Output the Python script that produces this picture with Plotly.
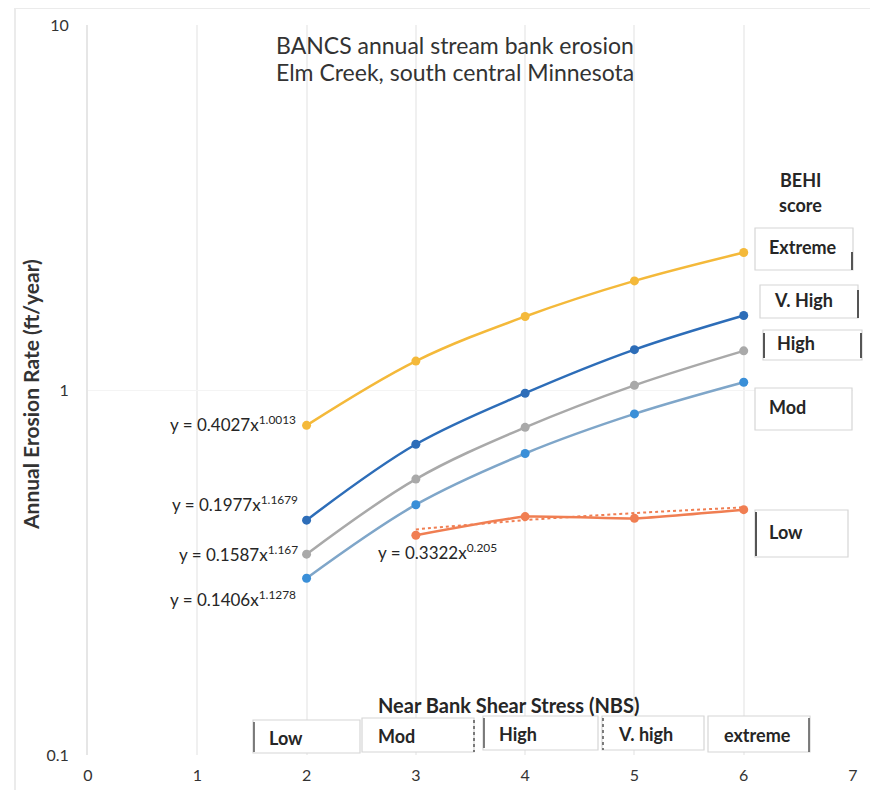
import plotly.graph_objects as go

# ---------------- data ----------------
nbs = [2, 3, 4, 5, 6]
nbs_low = [3, 4, 5, 6]
extreme = [0.80, 1.20, 1.59, 1.99, 2.38]
v_high = [0.44, 0.71, 0.98, 1.29, 1.60]
high = [0.355, 0.57, 0.79, 1.03, 1.28]
mod = [0.305, 0.485, 0.67, 0.86, 1.05]
low = [0.40, 0.45, 0.445, 0.47]
low_trend = [0.415, 0.44, 0.46, 0.477]

x_ticks = [0, 1, 2, 3, 4, 5, 6, 7]
y_ticks = [0.1, 1, 10]
y_tick_text = ["0.1", "1", "10"]

behi_labels = ["Extreme", "V. High", "High", "Mod", "Low"]
nbs_labels = ["Low", "Mod", "High", "V. high", "extreme"]
equations = [
    "y = 0.4027x<sup>1.0013</sup>",
    "y = 0.1977x<sup>1.1679</sup>",
    "y = 0.1587x<sup>1.167</sup>",
    "y = 0.1406x<sup>1.1278</sup>",
    "y = 0.3322x<sup>0.205</sup>",
]

# ---------------- layout helpers (page pixel -> paper) ----------------
OFF = 8  # default body margin of the page
W, H = 878 - OFF, 790 - OFF
L, R, T, B = 88, 853, 25, 755  # plot area in page pixels


def px(x):
    return (x - L) / (R - L)


def py(y):
    return (B - y) / (B - T)


FONT = "Lato"
TXT = "#333333"
DARK = "#262626"

fig = go.Figure()

series = [
    ("Extreme", nbs, extreme, "#F4B93A", 1.0),
    ("V. High", nbs, v_high, "#2D6DB8", 1.0),
    ("High", nbs, high, "#A9A9A9", 1.0),
    ("Mod", nbs, mod, "#7FA6C9", 1.0),
    ("Low", nbs_low, low, "#F07E52", 0.4),
]
marker_cols = ["#F4B93A", "#2D6DB8", "#A9A9A9", "#3A8FD8", "#F07E52"]

fig.add_trace(go.Scatter(x=nbs_low, y=low_trend, mode="lines",
                         line=dict(color="#F07E52", width=2, dash="dot", shape="spline"),
                         showlegend=False, hoverinfo="skip"))

for (name, xs, ys, col, sm), mc in zip(series, marker_cols):
    fig.add_trace(go.Scatter(
        x=xs, y=ys, mode="lines+markers", name=name,
        line=dict(color=col, width=2.5, shape="spline", smoothing=sm),
        marker=dict(color=mc, size=9),
        showlegend=False,
    ))

shapes = []
annotations = []


def label(x, y, text, size, color=DARK, xanchor="center", angle=0):
    annotations.append(dict(xref="paper", yref="paper", x=px(x), y=py(y),
                            xanchor=xanchor, yanchor="middle", text=text,
                            showarrow=False, textangle=angle,
                            font=dict(family=FONT, size=size, color=color)))


# outer faint frame
shapes.append(dict(type="rect", xref="paper", yref="paper",
                   x0=px(15), x1=px(900), y0=py(800), y1=py(8),
                   line=dict(color="#EBEBEB", width=2), layer="below"))

# Title
label(455, 45, "BANCS annual stream bank erosion", 23, TXT)
label(455, 72, "Elm Creek, south central Minnesota", 23, TXT)

# Y axis title
label(30, 395, "<b>Annual Erosion Rate (ft/year)</b>", 21, TXT, angle=-90)

# BEHI header
label(800, 180, "<b>BEHI</b>", 18)
label(800, 205, "<b>score</b>", 18)

# BEHI boxes (x0, x1, y0, y1 page pixels)
behi_boxes = [
    (755, 853, 228, 270),
    (760, 858, 285, 318),
    (763, 862, 330, 360),
    (755, 852, 388, 430),
    (755, 848, 510, 557),
]
for lab, (x0, x1, y0, y1) in zip(behi_labels, behi_boxes):
    shapes.append(dict(type="rect", xref="paper", yref="paper",
                       x0=px(x0), x1=px(x1), y0=py(y1), y1=py(y0),
                       fillcolor="white", line=dict(color="#D6D6D6", width=1.2)))
    label(x0 + 12, (y0 + y1) / 2 - 2, "<b>%s</b>" % lab, 18, xanchor="left")

# dark edges on some BEHI boxes
dark_edges = [(852, 252, 270), (858, 290, 318), (764, 333, 358), (861, 333, 358), (756, 512, 556)]
for x, ya, yb in dark_edges:
    shapes.append(dict(type="line", xref="paper", yref="paper",
                       x0=px(x), x1=px(x), y0=py(ya), y1=py(yb),
                       line=dict(color="#555555", width=2)))

# NBS header and boxes
label(508, 705, "<b>Near Bank Shear Stress (NBS)</b>", 20)
nbs_boxes = [
    (253, 360, 720, 753),
    (362, 474, 718, 752),
    (483, 598, 716, 750),
    (602, 704, 716, 750),
    (708, 810, 716, 752),
]
for lab, (x0, x1, y0, y1) in zip(nbs_labels, nbs_boxes):
    shapes.append(dict(type="rect", xref="paper", yref="paper",
                       x0=px(x0), x1=px(x1), y0=py(y1), y1=py(y0),
                       fillcolor="white", line=dict(color="#D6D6D6", width=1.2)))
    label(x0 + 14, (y0 + y1) / 2 + 1, "<b>%s</b>" % lab, 18, xanchor="left")
nbs_dark = [(254, 722, 752), (474, 720, 752), (484, 718, 748), (603, 718, 750), (809, 718, 752)]
for x, ya, yb in nbs_dark:
    shapes.append(dict(type="line", xref="paper", yref="paper",
                       x0=px(x), x1=px(x), y0=py(ya), y1=py(yb),
                       line=dict(color="#555555", width=1.5,
                                 dash="dot" if x in (474, 603) else "solid")))

# Equations (anchor x page px, center y page px)
eq_pos = [(298, 423, "right"), (300, 503, "right"), (300, 553, "right"),
          (298, 598, "right"), (376, 551, "left")]
for eq, (x, y, anc) in zip(equations, eq_pos):
    label(x, y, eq, 17, xanchor=anc)

fig.update_layout(
    width=W, height=H,
    margin=dict(l=L - OFF, r=W - (R - OFF), t=T - OFF, b=H - (B - OFF), pad=0),
    paper_bgcolor="white", plot_bgcolor="white",
    shapes=shapes, annotations=annotations,
    xaxis=dict(range=[0, 7], tickvals=x_ticks, showgrid=True, gridcolor="#F0F0F0",
               gridwidth=2, zeroline=False, showline=False, ticks="", automargin=False,
               tickfont=dict(family=FONT, size=16, color=TXT), ticklabelstandoff=9),
    yaxis=dict(type="log", range=[-1, 1], tickvals=y_ticks, ticktext=y_tick_text,
               showgrid=True, gridcolor="#F4F4F4", zeroline=False, automargin=False,
               showline=True, linecolor="#E6E6E6", linewidth=2, ticks="",
               tickfont=dict(family=FONT, size=16, color=TXT), ticklabelstandoff=14),
    font=dict(family=FONT),
)

fig.write_html("out.html")
